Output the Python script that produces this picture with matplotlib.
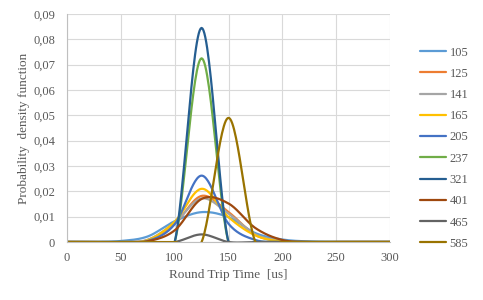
import numpy as np
import matplotlib.pyplot as plt
from matplotlib.ticker import FuncFormatter

plt.rcParams['font.family'] = ['Liberation Serif', 'DejaVu Serif']

# round trip time samples [us]
rtt = [0, 25, 50, 75, 100, 125, 150, 175, 200, 225, 250, 275, 300]

labels = ['105', '125', '141', '165', '205', '237', '321', '401', '465', '585']
colors = ['#5B9BD5', '#ED7D31', '#A5A5A5', '#FFC000', '#4472C4',
          '#70AD47', '#255E91', '#9E480E', '#636363', '#997300']

pdf_105 = [0, 0, 0.0004, 0.0022, 0.0082, 0.0118, 0.0098, 0.0035, 0.0010, 0.0002, 0, 0, 0]
pdf_125 = [0, 0, 0, 0.0008, 0.0072, 0.0182, 0.0118, 0.0028, 0.0003, 0, 0, 0, 0]
pdf_141 = [0, 0, 0, 0.0009, 0.0076, 0.0172, 0.0112, 0.0030, 0.0004, 0, 0, 0, 0]
pdf_165 = [0, 0, 0, 0.0007, 0.0080, 0.0210, 0.0098, 0.0026, 0.0002, 0, 0, 0, 0]
pdf_205 = [0, 0, 0, 0.0004, 0.0070, 0.0262, 0.0072, 0.0008, 0, 0, 0, 0, 0]
pdf_237 = [0, 0, 0, 0, 0, 0.0725, 0, 0, 0, 0, 0, 0, 0]
pdf_321 = [0, 0, 0, 0, 0, 0.0845, 0, 0, 0, 0, 0, 0, 0]
pdf_401 = [0, 0, 0, 0.0003, 0.0046, 0.0170, 0.0152, 0.0055, 0.0008, 0, 0, 0, 0]
pdf_465 = [0, 0, 0, 0, 0, 0.0030, 0, 0, 0, 0, 0, 0, 0]
pdf_585 = [0, 0, 0, 0, 0, 0, 0.0490, 0, 0, 0, 0, 0, 0]

series = [pdf_105, pdf_125, pdf_141, pdf_165, pdf_205,
          pdf_237, pdf_321, pdf_401, pdf_465, pdf_585]


def smooth(x, y, n=30):
    # catmull-rom curve through the points, like the spreadsheet "smoothed line"
    x = np.asarray(x, float)
    y = np.asarray(y, float)
    px = np.concatenate([[x[0]], x, [x[-1]]])
    py = np.concatenate([[y[0]], y, [y[-1]]])
    t = np.linspace(0, 1, n)
    h00 = 2 * t**3 - 3 * t**2 + 1
    h10 = t**3 - 2 * t**2 + t
    h01 = -2 * t**3 + 3 * t**2
    h11 = t**3 - t**2
    xs, ys = [], []
    for i in range(1, len(px) - 2):
        mx0 = (px[i + 1] - px[i - 1]) / 2
        mx1 = (px[i + 2] - px[i]) / 2
        my0 = (py[i + 1] - py[i - 1]) / 2
        my1 = (py[i + 2] - py[i]) / 2
        xs.append(h00 * px[i] + h10 * mx0 + h01 * px[i + 1] + h11 * mx1)
        ys.append(h00 * py[i] + h10 * my0 + h01 * py[i + 1] + h11 * my1)
    return np.concatenate(xs), np.concatenate(ys)


fig = plt.figure(figsize=(4.83, 3.0), dpi=100)
ax = fig.add_axes([0.1387, 0.1933, 0.6688, 0.76])

for lab, col, vals in zip(labels, colors, series):
    sx, sy = smooth(rtt, vals)
    ax.plot(sx, sy, color=col, lw=1.6, label=lab, solid_capstyle='round')

ax.set_xlim(0, 300)
ax.set_ylim(0, 0.09)
ax.set_xticks(np.arange(0, 301, 50))
ax.set_yticks(np.arange(0, 0.0901, 0.01))
ax.yaxis.set_major_formatter(FuncFormatter(
    lambda v, p: '0' if abs(v) < 1e-9 else ('%.2f' % v).replace('.', ',')))

ax.grid(True, color='#D9D9D9', lw=0.8)
ax.set_axisbelow(True)
for s in ['top', 'right']:
    ax.spines[s].set_visible(False)
ax.spines['left'].set_color('#BFBFBF')
ax.spines['bottom'].set_color('#BFBFBF')
ax.tick_params(length=0, labelsize=9, colors='#595959')
ax.tick_params(axis='y', pad=8.5)
ax.tick_params(axis='x', pad=7)

ax.set_xlabel('Round Trip Time  [us]', fontsize=9.5, color='#595959', labelpad=4)
ax.set_ylabel('Probability  density function', fontsize=9.5, color='#595959', labelpad=2)

fig.legend(loc='upper left', bbox_to_anchor=(0.87, 0.845), frameon=False,
           fontsize=9, handlelength=2.1, handletextpad=0.25,
           labelspacing=0.74, borderpad=0, borderaxespad=0,
           labelcolor='#595959')

fig.savefig('out.png', dpi=100)
